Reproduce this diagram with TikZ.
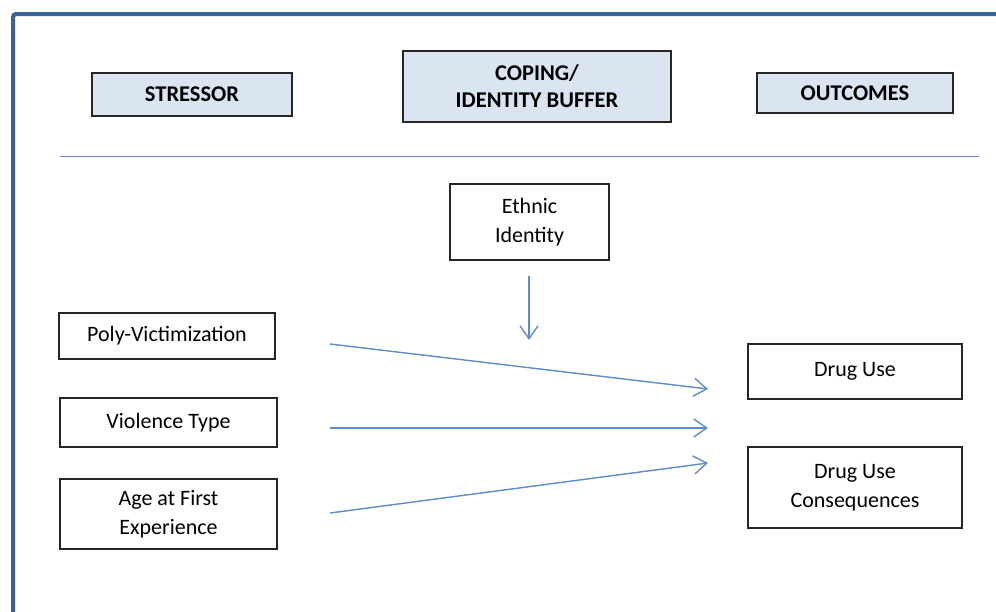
\documentclass[tikz,border=0pt]{standalone}
\usepackage{fontspec}
\setmainfont{Carlito}
\usetikzlibrary{arrows.meta}
\definecolor{framebl}{HTML}{3D6196}
\definecolor{headfill}{HTML}{DBE5F1}
\definecolor{linebl}{HTML}{5F8CCB}
\tikzset{
  headbox/.style={draw=black!85, line width=1.2pt, fill=headfill, font=\bfseries\fontsize{22.5}{27}\selectfont, align=center, inner sep=0pt},
  varbox/.style={draw=black!85, line width=1.2pt, font=\fontsize{22}{29}\selectfont, align=center, inner sep=0pt},
  pathto/.style={linebl, line width=1.4pt, -{Straight Barb[length=13pt, width=18pt, line width=1.4pt]}}
}
\begin{document}
\begin{tikzpicture}[x=1pt, y=-1pt]
      \useasboundingbox (0,0) rectangle (996,611);
      % frame
      \draw[framebl, line width=4pt, rounded corners=3pt] (13,613) -- (13,14) -- (998,14);
      % headers
      \node[headbox, minimum width=200pt, minimum height=43pt] (stressor) at (192,94.5) {STRESSOR};
      \node[headbox, minimum width=268pt, minimum height=71pt] (buffer) at (537,86.5) {COPING/\\IDENTITY BUFFER};
      \node[headbox, minimum width=196pt, minimum height=40pt] (outcomes) at (855,93) {OUTCOMES};
      \coordinate (ruleL) at (60,156);
      \coordinate (ruleR) at (979,156);
      \draw[linebl, line width=1pt] (ruleL) -- (ruleR);
      % moderator
      \node[varbox, minimum width=159pt, minimum height=76pt] (ethnic) at (529.5,222) {Ethnic\\Identity};
      \coordinate (modS) at (529,276);
      \coordinate (modE) at (529,340);
      \draw[pathto] (modS) -- (modE);
      % stressors
      \node[varbox, minimum width=216pt, minimum height=46pt] (poly) at (167,336) {Poly-Victimization};
      \node[varbox, minimum width=217pt, minimum height=49pt] (viol) at (168.5,422.5) {Violence Type};
      \node[varbox, minimum width=217pt, minimum height=70pt] (age) at (168.5,514) {Age at First\\Experience};
      % outcomes
      \node[varbox, minimum width=214pt, minimum height=55pt] (drug) at (855,371.5) {Drug Use};
      \node[varbox, minimum width=214pt, minimum height=81pt] (cons) at (855,487.5) {Drug Use\\Consequences};
      % paths
      \coordinate (polyS) at (330,344);  \coordinate (polyE) at (708,389);
      \coordinate (violS) at (330,428);  \coordinate (violE) at (708,428);
      \coordinate (ageS) at (330,513);   \coordinate (ageE) at (708,463);
      \draw[pathto] (polyS) -- (polyE);
      \draw[pathto] (violS) -- (violE);
      \draw[pathto] (ageS) -- (ageE);
\end{tikzpicture}
\end{document}
